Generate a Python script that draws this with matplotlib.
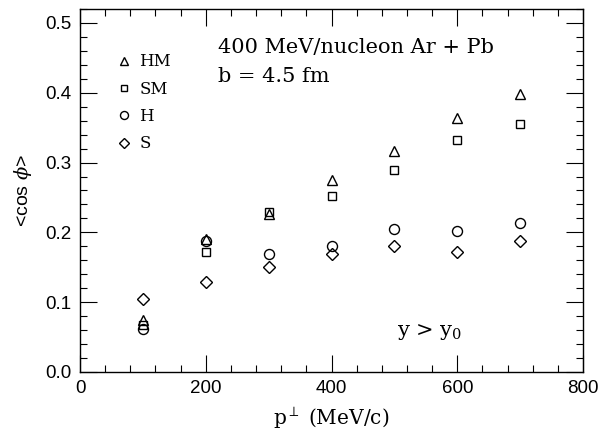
import matplotlib
matplotlib.use("Agg")
import matplotlib.pyplot as plt
from matplotlib.ticker import MultipleLocator, FormatStrFormatter

plt.rcParams['font.family'] = ['DejaVu Serif']
plt.rcParams['mathtext.fontset'] = 'dejavuserif'

p_perp = [100, 200, 300, 400, 500, 600, 700]
hm = [0.075, 0.190, 0.226, 0.275, 0.317, 0.364, 0.398]
sm = [0.067, 0.172, 0.229, 0.252, 0.290, 0.332, 0.355]
h = [0.062, 0.188, 0.169, 0.181, 0.205, 0.202, 0.213]
s = [0.104, 0.129, 0.150, 0.169, 0.180, 0.172, 0.188]

fig = plt.figure(figsize=(5.99, 4.33), dpi=100)
ax = fig.add_axes([0.1336, 0.1409, 0.8397, 0.8383])

kw = dict(linestyle='none', mfc='none', mec='black', mew=1.0)
ax.plot(p_perp, hm, marker='^', ms=7.5, label='HM', **kw)
ax.plot(p_perp, sm, marker='s', ms=6.2, label='SM', **kw)
ax.plot(p_perp, h, marker='o', ms=7.2, label='H', **kw)
ax.plot(p_perp, s, marker='D', ms=6.0, label='S', **kw)

ax.set_xlim(0, 800)
ax.set_ylim(0, 0.52)
ax.xaxis.set_major_locator(MultipleLocator(200))
ax.xaxis.set_minor_locator(MultipleLocator(40))
ax.yaxis.set_major_locator(MultipleLocator(0.1))
ax.yaxis.set_minor_locator(MultipleLocator(0.02))
ax.yaxis.set_major_formatter(FormatStrFormatter('%.1f'))
ax.tick_params(which='both', direction='in', top=True, right=True, width=0.8)
ax.tick_params(which='major', length=12, pad=6)
ax.tick_params(which='minor', length=5)
for lab in ax.get_xticklabels() + ax.get_yticklabels():
    lab.set_fontfamily('Liberation Sans')
    lab.set_fontsize(13.5)
for sp in ax.spines.values():
    sp.set_linewidth(1.0)

ax.set_xlabel(r'p$^{\perp}$ (MeV/c)', fontsize=14.5, labelpad=6)
ax.set_ylabel(r'<cos $\phi$>', fontsize=14, family='Liberation Sans', labelpad=8)

ax.text(0.274, 0.895, '400 MeV/nucleon Ar + Pb', transform=ax.transAxes,
        fontsize=15, va='center', ha='left')
ax.text(0.274, 0.814, 'b = 4.5 fm', transform=ax.transAxes,
        fontsize=15, va='center', ha='left')
ax.text(0.631, 0.11, r'y > y$_0$', transform=ax.transAxes,
        fontsize=15, va='center', ha='left')

leg = ax.legend(loc='upper left', bbox_to_anchor=(0.055, 0.91), frameon=False,
                markerscale=0.8, handlelength=0.6, handletextpad=0.6,
                labelspacing=0.62, fontsize=12, borderpad=0.2)

fig.savefig('out.png', dpi=100)
